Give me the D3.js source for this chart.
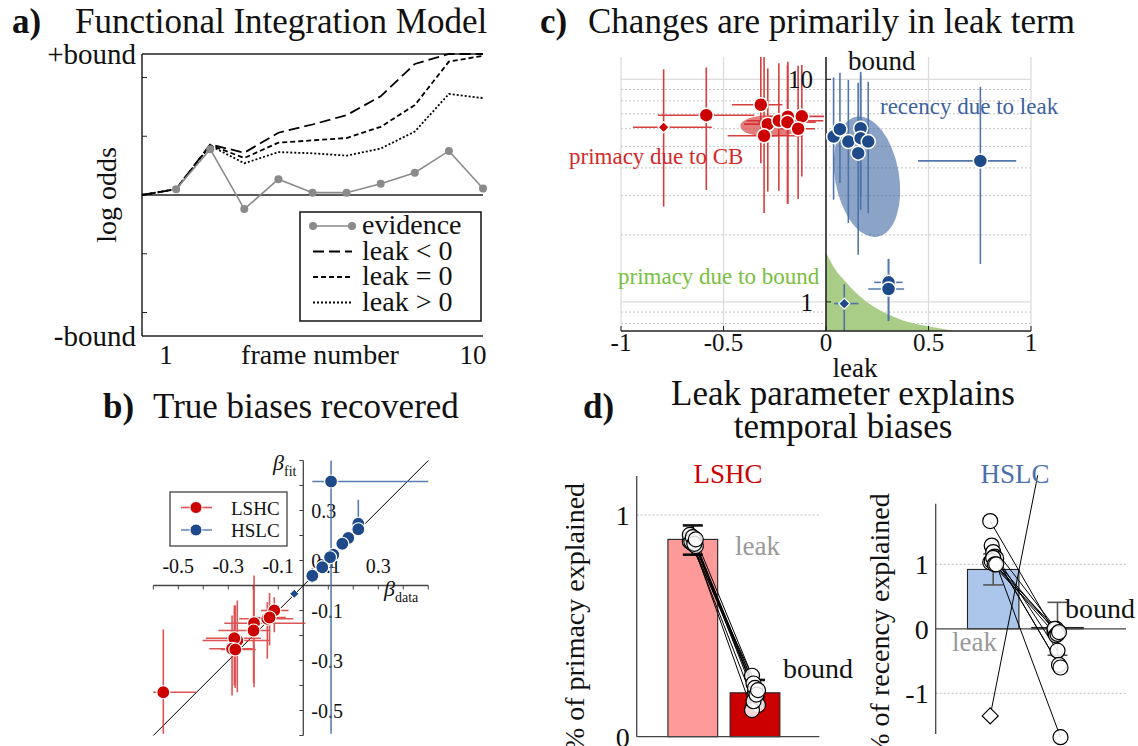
<!DOCTYPE html>
<html>
<head>
<meta charset="utf-8">
<script src="https://cdn.jsdelivr.net/npm/d3@7"></script>
<style>
  html, body { margin: 0; padding: 0; background: #fff; }
  svg text { font-family: "Liberation Serif", "DejaVu Serif", serif; fill: #111; }
</style>
</head>
<body>
<svg id="fig" width="1138" height="746" font-family="Liberation Serif, DejaVu Serif, serif"></svg>
<script>
// ---------------- a) Functional Integration Model ----------------
const lineFrames = [0, 1, 2, 3, 4, 5, 6, 7, 8, 9, 10];
const evidenceFrames = [1, 2, 3, 4, 5, 6, 7, 8, 9, 10];
const evidence = [0.10, 0.78, -0.24, 0.27, 0.04, 0.04, 0.19, 0.38, 0.75, 0.11];
const leakNeg  = [0, 0.10, 0.86, 0.72, 1.06, 1.20, 1.36, 1.68, 2.23, 2.40, 2.40];
const leakZero = [0, 0.10, 0.85, 0.63, 0.89, 0.93, 0.97, 1.16, 1.53, 2.27, 2.37];
const leakPos  = [0, 0.10, 0.84, 0.54, 0.73, 0.71, 0.67, 0.79, 1.08, 1.72, 1.65];
const logOddsBound = 2.4;
const logOddsTicks = [-2, -1, 1, 2];
const frameTickLabels = [1, 10];
const legendA = ["evidence", "leak < 0", "leak = 0", "leak > 0"];

// ---------------- b) True biases recovered ----------------
const lshcBetaData = [-0.56, -0.116, -0.144, -0.135, -0.197, -0.199, -0.264, -0.276, -0.285, -0.272];
const lshcBetaFit  = [-0.427, -0.10, -0.133, -0.128, -0.151, -0.18, -0.22, -0.211, -0.253, -0.256];
const lshcDataLo = [-0.60, -0.169, -0.256, -0.20, -0.316, -0.34, -0.403, -0.39, -0.376, -0.33];
const lshcDataHi = [-0.429, -0.059, -0.04, -0.07, 0.008, -0.136, -0.136, -0.17, -0.203, -0.19];
const lshcFitLo  = [-0.593, -0.187, -0.293, -0.24, -0.407, -0.39, -0.427, -0.40, -0.44, -0.41];
const lshcFitHi  = [-0.176, -0.047, -0.067, -0.03, 0.04, 0.0, -0.06, -0.08, -0.12, -0.08];
const hslcBetaData = [0.111, 0.22, 0.22, 0.18, 0.156, 0.12, 0.107, 0.076, 0.036, -0.036];
const hslcBetaFit  = [0.416, 0.247, 0.225, 0.19, 0.167, 0.123, 0.113, 0.073, 0.039, -0.033];
const hslcDataLo = [0.036, 0.21, 0.20, 0.165, 0.14, 0.10, 0.09, 0.055, 0.015, -0.045];
const hslcDataHi = [0.50, 0.23, 0.24, 0.195, 0.175, 0.14, 0.125, 0.095, 0.055, -0.027];
const hslcFitLo  = [-0.593, 0.233, 0.205, 0.17, 0.145, 0.10, 0.09, 0.05, 0.01, -0.042];
const hslcFitHi  = [0.50, 0.343, 0.245, 0.21, 0.19, 0.145, 0.135, 0.095, 0.07, -0.024];
const betaTickLabelsX = [-0.5, -0.3, -0.1, 0.1, 0.3];
const betaTickLabelsY = [0.3, 0.1, -0.1, -0.3, -0.5];

// ---------------- c) Changes are primarily in leak term ----------------
const lshcLeak  = [-0.792, -0.584, -0.318, -0.284, -0.302, -0.230, -0.186, -0.188, -0.118, -0.136];
const lshcBound = [6.09, 6.90, 7.69, 6.29, 5.58, 6.52, 6.79, 6.42, 6.82, 6.00];
const lshcLeakLo  = [-0.941, -0.82, -0.459, -0.40, -0.48, -0.386, -0.30, -0.33, -0.21, -0.224];
const lshcLeakHi  = [-0.557, -0.35, -0.213, -0.17, -0.115, -0.013, -0.08, -0.05, -0.01, -0.054];
const lshcBoundLo = [2.68, 3.18, 4.20, 3.13, 2.51, 3.16, 2.76, 2.76, 3.66, 2.90];
const lshcBoundHi = [11.1, 11.3, 14.0, 11.2, 14.0, 11.8, 12.0, 11.6, 11.6, 11.5];
const hslcLeak  = [0.037, 0.068, 0.109, 0.169, 0.169, 0.206, 0.157, 0.753, 0.305, 0.305, 0.089];
const hslcBound = [5.53, 5.97, 5.25, 6.03, 5.44, 5.25, 4.66, 4.30, 1.224, 1.143, 0.983];
const hslcLeakLo  = [0.02, 0.05, 0.09, 0.15, 0.15, 0.19, 0.14, 0.449, 0.235, 0.206, 0.04];
const hslcLeakHi  = [0.055, 0.085, 0.13, 0.19, 0.19, 0.225, 0.175, 0.928, 0.373, 0.381, 0.158];
const hslcBoundLo = [2.88, 3.42, 2.26, 2.59, 3.00, 2.50, 1.63, 1.48, 0.82, 0.82, 0.70];
const hslcBoundHi = [10.2, 10.7, 9.93, 10.8, 10.5, 9.75, 9.66, 9.26, 1.56, 1.56, 1.20];
const boundOnlyLeak  = [0, 0.036, 0.101, 0.165, 0.23, 0.295, 0.376, 0.457, 0.538, 0.62];
const boundOnlyBound = [1.669, 1.444, 1.217, 1.06, 0.956, 0.886, 0.824, 0.789, 0.765, 0.74];
const ellipseLeak = [-0.272, 0.20];
const ellipseBound = [6.17, 3.65];
const ellipseLeakSpread = [0.146, 0.156];
const ellipseLogBoundSpread = [0.049, 0.274];
const leakTicks = [-1, -0.5, 0, 0.5, 1];
const boundMinorGrid = [0.8, 0.9, 2, 3, 4, 5, 6, 7, 8, 9];
const boundMajorGrid = [1, 10];

// ---------------- d) Leak parameter explains temporal biases ----------------
const components = ["leak", "bound"];
const lshcLeakShare  = [0.88, 0.90, 0.87, 0.89, 0.86, 0.91, 0.88, 0.90, 0.87, 0.89];
const lshcBoundShare = [0.275, 0.24, 0.20, 0.18, 0.143, 0.12, 0.16, 0.22, 0.19, 0.21];
const lshcShareMean = [0.89, 0.198];
const lshcShareLo   = [0.821, 0.143];
const lshcShareHi   = [0.953, 0.256];
const hslcLeakShare  = [1.67, 1.29, 1.19, 1.12, 1.09, 1.03, 1.05, 1.10, 1.00, 1.00, -1.35];
const hslcBoundShare = [-0.05, 0.00, -0.34, -0.56, -0.60, 0.00, -0.10, -0.08, -0.05, -1.68, 3.70];
const hslcShareMean = [0.92, 0.02];
const hslcShareLo   = [0.68, -0.41];
const hslcShareHi   = [1.16, 0.41];

// ---------------- shared styling ----------------
const RED = "#cc0000", RED_ERR = "#d42a2a";
const BLUE = "#1f4a8a", BLUE_ERR = "#4a70a8", BLUE_TEXT = "#3d62a0";
const GREEN_FILL = "#a9cc86", GREEN_TEXT = "#78c040";
const TITLE_FS = 35;
const svg = d3.select("#fig");
const defs = svg.append("defs");
const diamond = r => `M0,${-r}L${r},0L0,${r}L${-r},0Z`;

// ======================= panel a =======================
{
  const g = svg.append("g");
  const x = d3.scaleLinear().domain([0, 10]).range([142, 483]);
  const y = d3.scaleLinear().domain([-logOddsBound, logOddsBound]).range([336, 54]);

  svg.append("text").attr("x", 12).attr("y", 33).attr("font-size", TITLE_FS).attr("font-weight", "bold").text("a)");
  svg.append("text").attr("x", 75).attr("y", 33).attr("font-size", TITLE_FS).text("Functional Integration Model");

  // frame
  const ax = g.append("g").attr("stroke", "#222").attr("stroke-width", 1.5);
  ax.append("line").attr("x1", x(0)).attr("x2", x(10)).attr("y1", y(logOddsBound)).attr("y2", y(logOddsBound));
  ax.append("line").attr("x1", x(0)).attr("x2", x(10)).attr("y1", y(-logOddsBound)).attr("y2", y(-logOddsBound));
  ax.append("line").attr("x1", x(0)).attr("x2", x(0)).attr("y1", y(logOddsBound)).attr("y2", y(-logOddsBound));
  ax.append("line").attr("x1", x(0)).attr("x2", x(10)).attr("y1", y(0)).attr("y2", y(0)).attr("stroke-width", 1.3);
  logOddsTicks.forEach(v => ax.append("line").attr("x1", x(0)).attr("x2", x(0) + 5).attr("y1", y(v)).attr("y2", y(v)).attr("stroke-width", 1));

  g.append("text").attr("x", 136).attr("y", y(logOddsBound) + 10).attr("text-anchor", "end").attr("font-size", 29).text("+bound");
  g.append("text").attr("x", 136).attr("y", y(-logOddsBound) + 10).attr("text-anchor", "end").attr("font-size", 29).text("-bound");
  frameTickLabels.forEach(v => g.append("text").attr("x", x(v) - 10).attr("y", 364)
    .attr("text-anchor", "middle").attr("font-size", 27).text(v));
  g.append("text").attr("x", 320).attr("y", 364).attr("text-anchor", "middle").attr("font-size", 28).text("frame number");
  g.append("text").attr("transform", `translate(116,${y(0)}) rotate(-90)`).attr("text-anchor", "middle")
    .attr("font-size", 28).text("log odds");

  const line = d3.line().x((d, i) => x(lineFrames[i])).y(d => y(d));
  const dashes = ["11,5", "5,3", "2,2"];
  [leakNeg, leakZero, leakPos].forEach((s, k) => g.append("path").attr("d", line(s))
    .attr("fill", "none").attr("stroke", "#000").attr("stroke-width", 1.8).attr("stroke-dasharray", dashes[k]));

  const eLine = d3.line().x((d, i) => x(evidenceFrames[i])).y(d => y(d));
  g.append("path").attr("d", eLine(evidence)).attr("fill", "none").attr("stroke", "#8a8a8a").attr("stroke-width", 1.6);
  g.selectAll(".ev").data(evidence).join("circle").attr("cx", (d, i) => x(evidenceFrames[i])).attr("cy", d => y(d))
    .attr("r", 4).attr("fill", "#8a8a8a");

  // legend
  const lg = g.append("g");
  lg.append("rect").attr("x", 300).attr("y", 212).attr("width", 181).attr("height", 109)
    .attr("fill", "#fff").attr("stroke", "#111").attr("stroke-width", 1.5);
  legendA.forEach((t, i) => {
    const by = 234 + i * 25.5;
    const ly = by - 8;
    if (i === 0) {
      lg.append("line").attr("x1", 313).attr("x2", 352).attr("y1", ly).attr("y2", ly).attr("stroke", "#8a8a8a").attr("stroke-width", 1.6);
      [313, 352].forEach(cxp => lg.append("circle").attr("cx", cxp).attr("cy", ly).attr("r", 4).attr("fill", "#8a8a8a"));
    } else {
      lg.append("line").attr("x1", 313).attr("x2", 352).attr("y1", ly).attr("y2", ly).attr("stroke", "#000")
        .attr("stroke-width", 1.8).attr("stroke-dasharray", dashes[i - 1]);
    }
    lg.append("text").attr("x", 362).attr("y", by).attr("font-size", 28).text(t);
  });
}

// ======================= panel b =======================
{
  const g = svg.append("g");
  const x = d3.scaleLinear().domain([-0.6, 0.5]).range([153.3, 428.3]);
  const y = d3.scaleLinear().domain([-0.6, 0.5]).range([735.5, 460.5]);

  svg.append("text").attr("x", 103).attr("y", 418).attr("font-size", TITLE_FS).attr("font-weight", "bold").text("b)");
  svg.append("text").attr("x", 153).attr("y", 418).attr("font-size", TITLE_FS).text("True biases recovered");

  const axc = "#444";
  g.append("line").attr("x1", x(-0.6)).attr("x2", x(0.5)).attr("y1", y(0)).attr("y2", y(0)).attr("stroke", axc).attr("stroke-width", 1.3);
  g.append("line").attr("x1", x(0)).attr("x2", x(0)).attr("y1", y(-0.6)).attr("y2", y(0.5)).attr("stroke", axc).attr("stroke-width", 1.3);
  const ticks = d3.range(-6, 6).map(k => k / 10);
  ticks.forEach(v => {
    g.append("line").attr("x1", x(v)).attr("x2", x(v)).attr("y1", y(0)).attr("y2", y(0) + 4).attr("stroke", axc);
    g.append("line").attr("x1", x(0) - 4).attr("x2", x(0)).attr("y1", y(v)).attr("y2", y(v)).attr("stroke", axc);
  });
  betaTickLabelsX.forEach(v => g.append("text").attr("x", x(v)).attr("y", y(0) - 13).attr("text-anchor", "middle")
    .attr("font-size", 20).text(v));
  betaTickLabelsY.forEach(v => g.append("text").attr("x", x(0) + 8).attr("y", y(v) + 7).attr("text-anchor", "start")
    .attr("font-size", 20).text(v));

  const bf = g.append("text").attr("x", 273).attr("y", 470).attr("font-size", 22);
  bf.append("tspan").attr("font-style", "italic").text("β");
  bf.append("tspan").attr("font-size", 14).attr("dy", 6).text("fit");
  const bd = g.append("text").attr("x", 384).attr("y", 596).attr("font-size", 22);
  bd.append("tspan").attr("font-style", "italic").text("β");
  bd.append("tspan").attr("font-size", 14).attr("dy", 6).text("data");

  // identity line
  g.append("line").attr("x1", x(-0.6)).attr("y1", y(-0.6)).attr("x2", x(0.5)).attr("y2", y(0.5))
    .attr("stroke", "#000").attr("stroke-width", 1);

  function errs(xs, ys, xlo, xhi, ylo, yhi, color, op) {
    const e = g.append("g").attr("stroke", color).attr("stroke-width", 1.6).attr("opacity", op);
    xs.forEach((d, i) => {
      e.append("line").attr("x1", x(xlo[i])).attr("x2", x(xhi[i])).attr("y1", y(ys[i])).attr("y2", y(ys[i]));
      e.append("line").attr("x1", x(d)).attr("x2", x(d)).attr("y1", y(ylo[i])).attr("y2", y(yhi[i]));
    });
  }
  errs(lshcBetaData, lshcBetaFit, lshcDataLo, lshcDataHi, lshcFitLo, lshcFitHi, RED_ERR, 0.8);
  errs(hslcBetaData, hslcBetaFit, hslcDataLo, hslcDataHi, hslcFitLo, hslcFitHi, BLUE_ERR, 0.9);

  lshcBetaData.forEach((d, i) => g.append("circle").attr("cx", x(d)).attr("cy", y(lshcBetaFit[i])).attr("r", 6.5)
    .attr("fill", RED).attr("stroke", "#fff").attr("stroke-width", 1.2));
  hslcBetaData.forEach((d, i) => {
    if (i === hslcBetaData.length - 1) {
      g.append("path").attr("d", diamond(4.5)).attr("transform", `translate(${x(d)},${y(hslcBetaFit[i])})`)
        .attr("fill", BLUE).attr("stroke", "#fff").attr("stroke-width", 1);
    } else {
      g.append("circle").attr("cx", x(d)).attr("cy", y(hslcBetaFit[i])).attr("r", 6.5)
        .attr("fill", BLUE).attr("stroke", "#fff").attr("stroke-width", 1.2);
    }
  });

  // legend
  const lg = g.append("g");
  lg.append("rect").attr("x", 170).attr("y", 492).attr("width", 117).attr("height", 54)
    .attr("fill", "#fff").attr("stroke", "#444").attr("stroke-width", 1.3);
  [["LSHC", RED, RED_ERR], ["HSLC", BLUE, BLUE_ERR]].forEach(([t, c, ec], i) => {
    const ly = 507.5 + i * 22.5;
    lg.append("line").attr("x1", 181).attr("x2", 212).attr("y1", ly).attr("y2", ly).attr("stroke", ec).attr("stroke-width", 1.6).attr("opacity", 0.8);
    lg.append("line").attr("x1", 196).attr("x2", 196).attr("y1", ly - 6).attr("y2", ly + 6).attr("stroke", ec).attr("stroke-width", 1.6).attr("opacity", 0.8);
    lg.append("circle").attr("cx", 196).attr("cy", ly).attr("r", 6).attr("fill", c).attr("stroke", "#fff");
    lg.append("text").attr("x", 231).attr("y", ly + 7).attr("font-size", 19).text(t);
  });
}

// ======================= panel c =======================
{
  const g = svg.append("g");
  const x = d3.scaleLinear().domain([-1, 1]).range([621, 1031]);
  const y = d3.scaleLog().domain([0.74, 12.6]).range([331, 57]);

  svg.append("text").attr("x", 540).attr("y", 33).attr("font-size", TITLE_FS).attr("font-weight", "bold").text("c)");
  svg.append("text").attr("x", 588).attr("y", 33).attr("font-size", TITLE_FS).text("Changes are primarily in leak term");

  defs.append("clipPath").attr("id", "clipC").append("rect")
    .attr("x", x(-1)).attr("y", y(12.6)).attr("width", x(1) - x(-1)).attr("height", y(0.74) - y(12.6));

  // grid
  const grid = g.append("g");
  boundMinorGrid.forEach(v => grid.append("line").attr("x1", x(-1)).attr("x2", x(1)).attr("y1", y(v)).attr("y2", y(v))
    .attr("stroke", "#c4c4c4").attr("stroke-width", 1).attr("stroke-dasharray", "2,2"));
  boundMajorGrid.forEach(v => grid.append("line").attr("x1", x(-1)).attr("x2", x(1)).attr("y1", y(v)).attr("y2", y(v))
    .attr("stroke", "#dcdcdc").attr("stroke-width", 1.3));
  leakTicks.filter(v => v !== 0).forEach(v => grid.append("line").attr("x1", x(v)).attr("x2", x(v)).attr("y1", y(12.6)).attr("y2", y(0.74))
    .attr("stroke", "#dcdcdc").attr("stroke-width", 1.3));

  const inner = g.append("g").attr("clip-path", "url(#clipC)");

  // bound-only region
  const area = d3.area().x((d, i) => x(boundOnlyLeak[i])).y0(y(0.74)).y1(d => y(d)).curve(d3.curveMonotoneX);
  inner.append("path").attr("d", area(boundOnlyBound)).attr("fill", GREEN_FILL);

  // cluster ellipses
  const eFill = ["#d84444", "#3d65a0"];
  const eOp = [0.7, 0.6];
  const eTilt = [0, -10];
  ellipseLeak.forEach((l, i) => {
    const cxp = x(l), cyp = y(ellipseBound[i]);
    const rx = x(l + ellipseLeakSpread[i]) - cxp;
    const ry = cyp - y(ellipseBound[i] * Math.pow(10, ellipseLogBoundSpread[i]));
    inner.append("ellipse").attr("cx", 0).attr("cy", 0).attr("rx", rx).attr("ry", ry)
      .attr("transform", `translate(${cxp},${cyp}) rotate(${eTilt[i]})`)
      .attr("fill", eFill[i]).attr("opacity", eOp[i]);
  });

  // axes
  g.append("line").attr("x1", x(-1)).attr("x2", x(1)).attr("y1", y(0.74)).attr("y2", y(0.74)).attr("stroke", "#222").attr("stroke-width", 1.4);
  g.append("line").attr("x1", x(0)).attr("x2", x(0)).attr("y1", y(12.6)).attr("y2", y(0.74)).attr("stroke", "#222").attr("stroke-width", 1.6);
  leakTicks.forEach(v => {
    g.append("line").attr("x1", x(v)).attr("x2", x(v)).attr("y1", y(0.74)).attr("y2", y(0.74) - 5).attr("stroke", "#222");
    g.append("text").attr("x", x(v)).attr("y", 351).attr("text-anchor", "middle").attr("font-size", 25).text(v);
  });
  boundMajorGrid.forEach(v => {
    g.append("line").attr("x1", x(0)).attr("x2", x(0) + 5).attr("y1", y(v)).attr("y2", y(v)).attr("stroke", "#222");
    g.append("text").attr("x", x(0) - 13).attr("y", y(v) + 9).attr("text-anchor", "end").attr("font-size", 25).text(v);
  });
  g.append("text").attr("x", 855).attr("y", 377).attr("text-anchor", "middle").attr("font-size", 27).text("leak");
  g.append("text").attr("x", 848).attr("y", 70).attr("font-size", 27).text("bound");

  // error bars
  function errs(ls, bs, llo, lhi, blo, bhi, color, op) {
    const e = inner.append("g").attr("stroke", color).attr("stroke-width", 1.6).attr("opacity", op);
    ls.forEach((d, i) => {
      e.append("line").attr("x1", x(llo[i])).attr("x2", x(lhi[i])).attr("y1", y(bs[i])).attr("y2", y(bs[i]));
      e.append("line").attr("x1", x(d)).attr("x2", x(d)).attr("y1", y(blo[i])).attr("y2", y(bhi[i]));
    });
  }
  errs(lshcLeak, lshcBound, lshcLeakLo, lshcLeakHi, lshcBoundLo, lshcBoundHi, RED_ERR, 0.9);
  errs(hslcLeak, hslcBound, hslcLeakLo, hslcLeakHi, hslcBoundLo, hslcBoundHi, BLUE_ERR, 0.95);

  // subjects
  lshcLeak.forEach((d, i) => {
    if (i === 0) {
      g.append("path").attr("d", diamond(5.5)).attr("transform", `translate(${x(d)},${y(lshcBound[i])})`)
        .attr("fill", RED).attr("stroke", "#fff").attr("stroke-width", 1.2);
    } else {
      g.append("circle").attr("cx", x(d)).attr("cy", y(lshcBound[i])).attr("r", 7)
        .attr("fill", RED).attr("stroke", "#fff").attr("stroke-width", 1.5);
    }
  });
  hslcLeak.forEach((d, i) => {
    if (i === hslcLeak.length - 1) {
      g.append("path").attr("d", diamond(5.5)).attr("transform", `translate(${x(d)},${y(hslcBound[i])})`)
        .attr("fill", BLUE).attr("stroke", "#fff").attr("stroke-width", 1.2);
    } else {
      g.append("circle").attr("cx", x(d)).attr("cy", y(hslcBound[i])).attr("r", 7)
        .attr("fill", BLUE).attr("stroke", "#fff").attr("stroke-width", 1.5);
    }
  });

  g.append("text").attr("x", 569).attr("y", 164).attr("font-size", 23).style("fill", RED_ERR).text("primacy due to CB");
  g.append("text").attr("x", 880).attr("y", 114).attr("font-size", 23).style("fill", BLUE_TEXT).text("recency due to leak");
  g.append("text").attr("x", 618).attr("y", 284).attr("font-size", 23).style("fill", GREEN_TEXT).text("primacy due to bound");
}

// ======================= panel d =======================
{
  svg.append("text").attr("x", 583).attr("y", 418).attr("font-size", TITLE_FS).attr("font-weight", "bold").text("d)");
  svg.append("text").attr("x", 843).attr("y", 405).attr("text-anchor", "middle").attr("font-size", TITLE_FS).text("Leak parameter explains");
  svg.append("text").attr("x", 843).attr("y", 438).attr("text-anchor", "middle").attr("font-size", TITLE_FS).text("temporal biases");

  function subplot(opts) {
    const g = svg.append("g");
    const { x, y, x0, x1, yTop, yBot, grid, ticks, fills, means, lo, hi, leakS, boundS, errColor, errW, diamondIdx } = opts;
    const w = (x(components[1]) - x(components[0])) * 0.8;

    grid.forEach(v => g.append("line").attr("x1", x0).attr("x2", x1).attr("y1", y(v)).attr("y2", y(v))
      .attr("stroke", "#bbb").attr("stroke-width", 1).attr("stroke-dasharray", "2,2"));
    // bars
    components.forEach((c, k) => {
      const top = Math.min(y(means[k]), y(0)), bot = Math.max(y(means[k]), y(0));
      g.append("rect").attr("x", x(c) - w / 2).attr("y", top).attr("width", w).attr("height", Math.max(bot - top, 0.01))
        .attr("fill", fills[k]).attr("stroke", "#222").attr("stroke-width", 1.1);
    });
    g.append("line").attr("x1", x0).attr("x2", x1).attr("y1", y(0)).attr("y2", y(0)).attr("stroke", "#444").attr("stroke-width", 1.3);
    g.append("line").attr("x1", x0).attr("x2", x0).attr("y1", y(yTop)).attr("y2", y(yBot)).attr("stroke", "#444").attr("stroke-width", 1.3);
    ticks.forEach(v => g.append("text").attr("x", x0 - 7).attr("y", y(v) + 10).attr("text-anchor", "end")
      .attr("font-size", 28).text(v));

    // error bars
    components.forEach((c, k) => {
      const e = g.append("g").attr("stroke", errColor).attr("stroke-width", errW);
      e.append("line").attr("x1", x(c)).attr("x2", x(c)).attr("y1", y(lo[k])).attr("y2", y(hi[k]));
      [lo[k], hi[k]].forEach(v => e.append("line").attr("x1", x(c) - 10).attr("x2", x(c) + 10).attr("y1", y(v)).attr("y2", y(v)));
    });

    // subjects
    const jit = i => ((i % 5) - 2) * 1.5;
    const sub = g.append("g").attr("clip-path", opts.clip ? `url(#${opts.clip})` : null);
    leakS.forEach((d, i) => sub.append("line")
      .attr("x1", x(components[0]) + jit(i)).attr("y1", y(d))
      .attr("x2", x(components[1]) + jit(i)).attr("y2", y(boundS[i]))
      .attr("stroke", "#000").attr("stroke-width", 1));
    leakS.forEach((d, i) => {
      [[components[0], d], [components[1], boundS[i]]].forEach(([c, v], k) => {
        if (i === diamondIdx && k === 0) {
          sub.append("path").attr("d", diamond(8)).attr("transform", `translate(${x(c) + jit(i)},${y(v)})`)
            .attr("fill", "#fff").attr("stroke", "#000").attr("stroke-width", 1.2);
        } else {
          sub.append("circle").attr("cx", x(c) + jit(i)).attr("cy", y(v)).attr("r", 7.5)
            .attr("fill", "#fff").attr("fill-opacity", 0.85).attr("stroke", "#000").attr("stroke-width", 1.2);
        }
      });
    });
    return g;
  }

  // LSHC
  const yL = d3.scaleLinear().domain([0, 1]).range([736.7, 515]);
  const xL = d3.scalePoint().domain(components).range([692.8, 755]);
  const gL = subplot({ x: xL, y: yL, x0: 636.7, x1: 819.3, yTop: 1.176, yBot: 0, grid: [1], ticks: [1, 0],
    fills: ["#ff9a9a", "#cc0000"], means: lshcShareMean, lo: lshcShareLo, hi: lshcShareHi,
    leakS: lshcLeakShare, boundS: lshcBoundShare, errColor: "#111", errW: 2.6, diamondIdx: -1 });
  gL.append("text").attr("x", 728).attr("y", 483).attr("text-anchor", "middle").attr("font-size", 27).style("fill", RED).text("LSHC");
  gL.append("text").attr("x", 735).attr("y", 555).attr("font-size", 27).style("fill", "#999").text("leak");
  gL.append("text").attr("x", 783).attr("y", 678).attr("font-size", 28).text("bound");
  gL.append("text").attr("transform", "translate(584,617) rotate(-90)").attr("text-anchor", "middle")
    .attr("font-size", 28).text("% of primacy explained");

  // HSLC
  const yR = d3.scaleLinear().domain([-1, 1]).range([693.3, 564.3]);
  const xR = d3.scalePoint().domain(components).range([993.2, 1057.5]);
  defs.append("clipPath").attr("id", "clipD").append("rect")
    .attr("x", 900).attr("y", yR(2.38)).attr("width", 238).attr("height", 746 - yR(2.38));
  const gR = subplot({ x: xR, y: yR, x0: 935.7, x1: 1126, yTop: 1.94, yBot: -1.63, grid: [1, -1], ticks: [1, 0, -1],
    fills: ["#abc6ea", "#cfdcef"], means: hslcShareMean, lo: hslcShareLo, hi: hslcShareHi,
    leakS: hslcLeakShare, boundS: hslcBoundShare, errColor: "#555", errW: 1.6, diamondIdx: hslcLeakShare.length - 1, clip: "clipD" });
  gR.append("text").attr("x", 1015).attr("y", 483).attr("text-anchor", "middle").attr("font-size", 27).style("fill", "#4a70ad").text("HSLC");
  gR.append("text").attr("x", 952).attr("y", 651).attr("font-size", 27).style("fill", "#999").text("leak");
  gR.append("text").attr("x", 1065).attr("y", 618).attr("font-size", 28).text("bound");
  gR.append("text").attr("transform", "translate(889,625) rotate(-90)").attr("text-anchor", "middle")
    .attr("font-size", 28).text("% of recency explained");
}
</script>
</body>
</html>
